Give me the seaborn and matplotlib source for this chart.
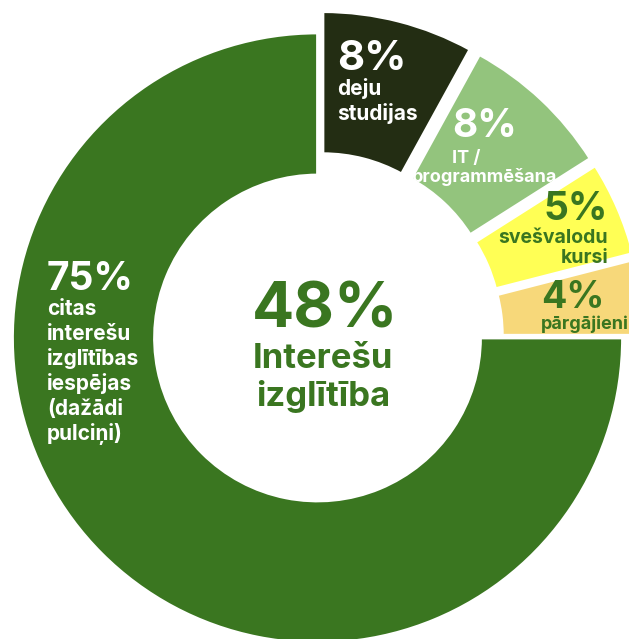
"""
Interešu izglītība - donut chart
"""

import matplotlib
matplotlib.use("Agg")
import matplotlib.pyplot as plt
import seaborn as sns

# ── Data ──────────────────────────────────────────────────────
categories = [
    "citas interešu izglītības iespējas (dažādi pulciņi)",
    "pārgājieni",
    "svešvalodu kursi",
    "IT / programmēšana",
    "deju studijas",
]
shares = [75, 4, 5, 8, 8]
label_lines = [
    ["citas", "interešu", "izglītības", "iespējas", "(dažādi", "pulciņi)"],
    ["pārgājieni"],
    ["svešvalodu", "kursi"],
    ["IT /", "programmēšana"],
    ["deju", "studijas"],
]
total_share = 48
total_lines = ["Interešu", "izglītība"]

# ── Style ─────────────────────────────────────────────────────
GREEN = "#3a7620"
colors      = [GREEN, "#f7d87a", "#ffff55", "#93c47d", "#232d13"]
text_colors = ["white", GREEN, GREEN, "white", "white"]
explode     = [0, 22, 22, 22, 22]

W, H = 629, 639
CENTER = (317.5, H - 338)
R_OUT, RING = 305, 142

# pct: (x, baseline from top, ha, size); lines: (x, ha) per line
label_layout = [
    dict(pct=(47, 290, "left", 28), lines=[(47, "left")] * 6, base=315, step=25, size=15),
    dict(pct=(541, 308, "left", 27), lines=[(541, "left")], base=329, step=0, size=13),
    dict(pct=(608, 220, "right", 28), lines=[(608, "right")] * 2, base=243, step=20, size=14),
    dict(pct=(452, 137, "left", 28), lines=[(452, "left"), (485, "center")], base=163, step=19, size=13),
    dict(pct=(337, 70, "left", 30), lines=[(337, "left")] * 2, base=95, step=25, size=15),
]

sns.set_theme(style="white")
plt.rcParams["font.family"] = ["Inter", "DejaVu Sans"]

fig = plt.figure(figsize=(W / 100, H / 100), dpi=100)
ax = fig.add_axes([0, 0, 1, 1])

ax.pie(
    shares,
    colors=colors,
    explode=explode,
    startangle=90,
    counterclock=True,
    center=CENTER,
    radius=R_OUT,
    wedgeprops=dict(width=RING, edgecolor="white", linewidth=2),
)
ax.set_xlim(0, W)
ax.set_ylim(0, H)
ax.set_aspect("equal")
ax.axis("off")

# ── Slice labels ──────────────────────────────────────────────
for share, lines, tc, lay in zip(shares, label_lines, text_colors, label_layout):
    px, py, pha, psize = lay["pct"]
    ax.text(px, H - py, f"{share}%", ha=pha, va="baseline",
            fontsize=psize, fontweight="bold", color=tc)
    for i, (line, (lx, lha)) in enumerate(zip(lines, lay["lines"])):
        ax.text(lx, H - (lay["base"] + i * lay["step"]), line, ha=lha, va="baseline",
                fontsize=lay["size"], fontweight="bold", color=tc)

# ── Center label ──────────────────────────────────────────────
ax.text(325, H - 327, f"{total_share}%", ha="center", va="baseline",
        fontsize=45, fontweight="bold", color=GREEN)
for i, line in enumerate(total_lines):
    ax.text(323, H - (368 + i * 38), line, ha="center", va="baseline",
            fontsize=25, fontweight="bold", color=GREEN)

fig.savefig("out.png", dpi=100)
